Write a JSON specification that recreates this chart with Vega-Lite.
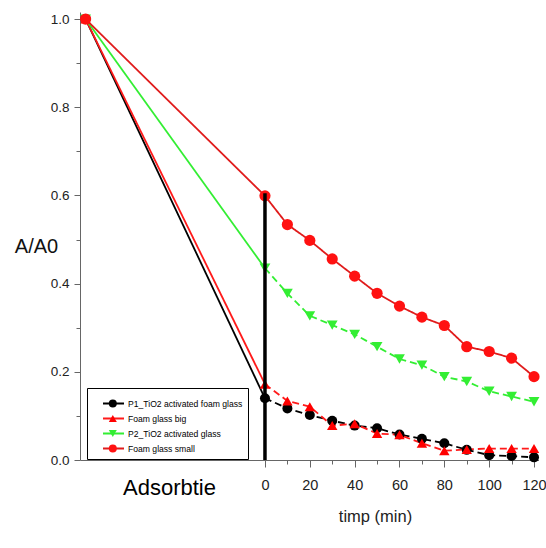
{
  "$schema": "https://vega.github.io/schema/vega-lite/v6.json",
  "width": 458.5,
  "height": 448,
  "autosize": {"type": "none"},
  "padding": {"left": 80, "top": 12, "right": 7, "bottom": 88},
  "background": "white",
  "config": {"view": {"stroke": null}, "font": "Liberation Sans"},
  "datasets": {
    "main": [
      {"series": "P1_TiO2 activated foam glass", "t": -80, "v": 1.0},
      {"series": "P1_TiO2 activated foam glass", "t": 0, "v": 0.140},
      {"series": "P1_TiO2 activated foam glass", "t": 10, "v": 0.117},
      {"series": "P1_TiO2 activated foam glass", "t": 20, "v": 0.102},
      {"series": "P1_TiO2 activated foam glass", "t": 30, "v": 0.089},
      {"series": "P1_TiO2 activated foam glass", "t": 40, "v": 0.078},
      {"series": "P1_TiO2 activated foam glass", "t": 50, "v": 0.072},
      {"series": "P1_TiO2 activated foam glass", "t": 60, "v": 0.058},
      {"series": "P1_TiO2 activated foam glass", "t": 70, "v": 0.048},
      {"series": "P1_TiO2 activated foam glass", "t": 80, "v": 0.038},
      {"series": "P1_TiO2 activated foam glass", "t": 90, "v": 0.023},
      {"series": "P1_TiO2 activated foam glass", "t": 100, "v": 0.011},
      {"series": "P1_TiO2 activated foam glass", "t": 110, "v": 0.009},
      {"series": "P1_TiO2 activated foam glass", "t": 120, "v": 0.006},
      {"series": "Foam glass big", "t": -80, "v": 1.0},
      {"series": "Foam glass big", "t": 0, "v": 0.172},
      {"series": "Foam glass big", "t": 10, "v": 0.134},
      {"series": "Foam glass big", "t": 20, "v": 0.121},
      {"series": "Foam glass big", "t": 30, "v": 0.078},
      {"series": "Foam glass big", "t": 40, "v": 0.082},
      {"series": "Foam glass big", "t": 50, "v": 0.060},
      {"series": "Foam glass big", "t": 60, "v": 0.057},
      {"series": "Foam glass big", "t": 70, "v": 0.038},
      {"series": "Foam glass big", "t": 80, "v": 0.021},
      {"series": "Foam glass big", "t": 90, "v": 0.024},
      {"series": "Foam glass big", "t": 100, "v": 0.026},
      {"series": "Foam glass big", "t": 110, "v": 0.026},
      {"series": "Foam glass big", "t": 120, "v": 0.026},
      {"series": "P2_TiO2 activated glass", "t": -80, "v": 1.0},
      {"series": "P2_TiO2 activated glass", "t": 0, "v": 0.435},
      {"series": "P2_TiO2 activated glass", "t": 10, "v": 0.378},
      {"series": "P2_TiO2 activated glass", "t": 20, "v": 0.327},
      {"series": "P2_TiO2 activated glass", "t": 30, "v": 0.306},
      {"series": "P2_TiO2 activated glass", "t": 40, "v": 0.285},
      {"series": "P2_TiO2 activated glass", "t": 50, "v": 0.257},
      {"series": "P2_TiO2 activated glass", "t": 60, "v": 0.229},
      {"series": "P2_TiO2 activated glass", "t": 70, "v": 0.215},
      {"series": "P2_TiO2 activated glass", "t": 80, "v": 0.189},
      {"series": "P2_TiO2 activated glass", "t": 90, "v": 0.178},
      {"series": "P2_TiO2 activated glass", "t": 100, "v": 0.156},
      {"series": "P2_TiO2 activated glass", "t": 110, "v": 0.144},
      {"series": "P2_TiO2 activated glass", "t": 120, "v": 0.132},
      {"series": "Foam glass small", "t": -80, "v": 1.0},
      {"series": "Foam glass small", "t": 0, "v": 0.599},
      {"series": "Foam glass small", "t": 10, "v": 0.534},
      {"series": "Foam glass small", "t": 20, "v": 0.498},
      {"series": "Foam glass small", "t": 30, "v": 0.456},
      {"series": "Foam glass small", "t": 40, "v": 0.417},
      {"series": "Foam glass small", "t": 50, "v": 0.378},
      {"series": "Foam glass small", "t": 60, "v": 0.349},
      {"series": "Foam glass small", "t": 70, "v": 0.324},
      {"series": "Foam glass small", "t": 80, "v": 0.305},
      {"series": "Foam glass small", "t": 90, "v": 0.257},
      {"series": "Foam glass small", "t": 100, "v": 0.246},
      {"series": "Foam glass small", "t": 110, "v": 0.231},
      {"series": "Foam glass small", "t": 120, "v": 0.189}
    ],
    "marker": [{"t": 0, "v": 0, "v2": 0.605}]
  },
  "data": {"name": "main"},
  "encoding": {
    "x": {
      "field": "t", "type": "quantitative",
      "scale": {"domain": [-82.5, 122], "nice": false, "zero": false},
      "axis": {
        "values": [-42.8, 0, 10, 20, 30, 40, 50, 60, 70, 80, 90, 100, 110, 120],
        "title": "timp (min)",
        "titleFont": "Liberation Sans", "titleFontSize": 16.5, "titleFontWeight": "normal", "titleColor": "#222",
        "titleX": 295, "titleY": 61, "titleAlign": "center", "titleBaseline": "alphabetic",
        "labelExpr": "datum.value < 0 ? 'Adsorbtie' : (datum.value % 20 === 0 ? datum.label : '')",
        "labelFont": "Liberation Sans",
        "labelFontSize": {"condition": {"test": "datum.value < 0", "value": 22}, "value": 14.5},
        "labelColor": {"condition": {"test": "datum.value < 0", "value": "#000"}, "value": "#222"},
        "labelPadding": {"condition": {"test": "datum.value < 0", "value": 13}, "value": 11},
        "tickSize": {"condition": {"test": "datum.value % 20 === 0", "value": 7}, "value": 4},
        "tickOpacity": {"condition": {"test": "datum.value < 0", "value": 0}, "value": 1},
        "labelOverlap": false, "labelFlush": false, "labelBound": false,
        "domainColor": "#666", "tickColor": "#666", "grid": false, "format": "d"
      }
    },
    "y": {
      "field": "v", "type": "quantitative",
      "scale": {"domain": [0, 1.016], "nice": false},
      "axis": {
        "values": [0, 0.1, 0.2, 0.3, 0.4, 0.5, 0.6, 0.7, 0.8, 0.9, 1.0],
        "title": "A/A0", "titleAngle": 0, "titleX": -44, "titleY": 234.5,
        "titleAlign": "center", "titleBaseline": "middle",
        "titleFont": "Liberation Sans", "titleFontSize": 20, "titleFontWeight": "normal", "titleColor": "#111",
        "labelExpr": "round(datum.value*10) % 2 === 1 ? '' : format(datum.value, '.1f')",
        "labelFont": "Liberation Sans", "labelFontSize": 13.5, "labelColor": "#222", "labelPadding": 5,
        "tickSize": {"condition": {"test": "round(datum.value*10) % 2 === 0", "value": 6}, "value": 4},
        "domainColor": "#666", "tickColor": "#666", "grid": false,
        "labelOverlap": false, "labelFlush": false
      }
    }
  },
  "layer": [
    {
      "transform": [{"filter": "datum.t <= 0"}],
      "mark": {"type": "line", "strokeWidth": 1.8},
      "encoding": {
        "color": {
          "field": "series", "type": "nominal",
          "scale": {
            "domain": ["P1_TiO2 activated foam glass", "Foam glass big", "P2_TiO2 activated glass", "Foam glass small"],
            "range": ["#000000", "#ff1a1a", "#33ee33", "#e01b1b"]
          },
          "legend": {
            "orient": "none", "legendX": 7, "legendY": 376,
            "title": " ", "titleFontSize": 6, "titlePadding": 0,
            "symbolType": "stroke", "symbolSize": 441, "symbolStrokeWidth": 2,
            "symbolOffset": 10, "labelOffset": 3,
            "labelFont": "Liberation Sans", "labelFontSize": 8.6, "labelColor": "#000", "labelLimit": 300,
            "clipHeight": 9, "rowPadding": 5, "padding": 5,
            "strokeColor": "#000", "fillColor": "white"
          }
        }
      }
    },
    {
      "transform": [{"filter": "datum.t >= 0"}],
      "mark": {"type": "line", "strokeWidth": 1.8},
      "encoding": {
        "color": {
          "field": "series", "type": "nominal",
          "scale": {
            "domain": ["P1_TiO2 activated foam glass", "Foam glass big", "P2_TiO2 activated glass", "Foam glass small"],
            "range": ["#000000", "#ff1a1a", "#33ee33", "#e01b1b"]
          },
          "legend": null
        },
        "strokeDash": {
          "field": "series", "type": "nominal",
          "scale": {
            "domain": ["P1_TiO2 activated foam glass", "Foam glass big", "P2_TiO2 activated glass", "Foam glass small"],
            "range": [[7, 4], [7, 4], [7, 4], [1, 0]]
          },
          "legend": null
        }
      }
    },
    {
      "mark": {"type": "point", "filled": true, "opacity": 1},
      "encoding": {
        "color": {
          "field": "series", "type": "nominal",
          "scale": {
            "domain": ["P1_TiO2 activated foam glass", "Foam glass big", "P2_TiO2 activated glass", "Foam glass small"],
            "range": ["#000000", "#ff0000", "#33ee33", "#ff1111"]
          },
          "legend": {
            "orient": "none", "legendX": 7, "legendY": 376,
            "title": " ", "titleFontSize": 6, "titlePadding": 0,
            "symbolSize": 64, "symbolStrokeWidth": 0, "symbolOffset": 16.5, "labelOffset": 3,
            "labelFont": "Liberation Sans", "labelFontSize": 8.6, "labelExpr": "''", "labelLimit": 300,
            "clipHeight": 9, "rowPadding": 5, "padding": 5
          }
        },
        "shape": {
          "field": "series", "type": "nominal",
          "scale": {
            "domain": ["P1_TiO2 activated foam glass", "Foam glass big", "P2_TiO2 activated glass", "Foam glass small"],
            "range": ["circle", "triangle-up", "triangle-down", "circle"]
          },
          "legend": {
            "orient": "none", "legendX": 7, "legendY": 376,
            "title": " ", "titleFontSize": 6, "titlePadding": 0,
            "symbolSize": 64, "symbolStrokeWidth": 0, "symbolOffset": 16.5, "labelOffset": 3,
            "labelFont": "Liberation Sans", "labelFontSize": 8.6, "labelExpr": "''", "labelLimit": 300,
            "clipHeight": 9, "rowPadding": 5, "padding": 5
          }
        },
        "size": {
          "field": "series", "type": "nominal",
          "scale": {
            "domain": ["P1_TiO2 activated foam glass", "Foam glass big", "P2_TiO2 activated glass", "Foam glass small"],
            "range": [100, 125, 125, 105]
          },
          "legend": null
        }
      }
    },
    {
      "data": {"name": "marker"},
      "mark": {"type": "rule", "color": "#000", "strokeWidth": 3.5},
      "encoding": {"y2": {"field": "v2"}}
    }
  ],
  "resolve": {
    "scale": {"color": "independent", "shape": "independent"},
    "legend": {"color": "independent", "shape": "independent"}
  }
}
